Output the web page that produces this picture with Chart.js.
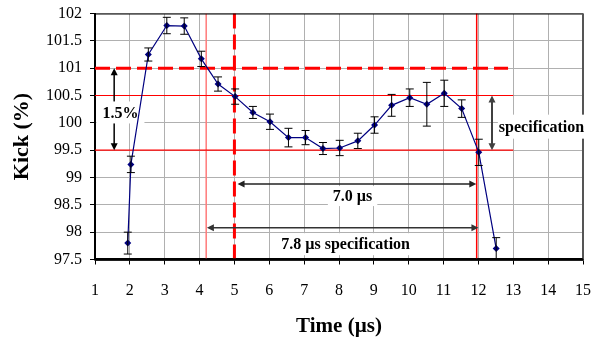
<!DOCTYPE html>
<html><head><meta charset="utf-8">
<script src="https://cdn.jsdelivr.net/npm/chart.js@4/dist/chart.umd.min.js"></script>
<style>html,body{margin:0;padding:0;background:#fff;}canvas{display:block;}</style>
</head><body>
<canvas id="c" width="591" height="338"></canvas>
<script>
// ---- data ----
const timeUs  = [1.94, 2.03, 2.53, 3.06, 3.56, 4.05, 4.53, 5.02, 5.53, 6.02, 6.55, 7.04, 7.54, 8.02, 8.54, 9.02, 9.51, 10.03, 10.52, 11.02, 11.52, 12.01, 12.51];
const kickPct = [97.80, 99.24, 101.25, 101.78, 101.77, 101.17, 100.71, 100.48, 100.19, 100.02, 99.73, 99.73, 99.53, 99.54, 99.67, 99.96, 100.32, 100.46, 100.34, 100.54, 100.26, 99.46, 97.70];
const kickErr = [0.20, 0.15, 0.12, 0.15, 0.15, 0.14, 0.13, 0.14, 0.11, 0.14, 0.17, 0.13, 0.11, 0.14, 0.14, 0.15, 0.20, 0.16, 0.40, 0.24, 0.16, 0.24, 0.20];
const xTickLabels = ['1','2','3','4','5','6','7','8','9','10','11','12','13','14','15'];
const yTickLabels = ['97.5','98','98.5','99','99.5','100','100.5','101','101.5','102'];

// reference levels (data units)
const limitLevels = [101, 100.5, 99.5];          // %; 101 dashed
const limitEnds   = [12.85, 13, 13];             // µs where the horizontal lines stop
const markerTimes = [4.19, 5, 11.95];            // µs vertical lines
const spans = [                                   // double arrows, data units
  {x1:1.55, y1:101,   x2:1.55,  y2:99.5},
  {x1:12.39,y1:100.5, x2:12.39, y2:99.5},
  {x1:5.09, y1:98.88, x2:11.94, y2:98.88},
  {x1:4.21, y1:98.08, x2:12.0,  y2:98.08}
];
const labelTexts = ['1.5%', 'specification', '7.0 \u00b5s', '7.8 \u00b5s specification'];
const labelAt = [{x:1.73,y:100.19},{x:13.81,y:99.93},{x:8.39,y:98.66},{x:8.19,y:97.78}];

const FONT = '"Liberation Serif","Times New Roman",serif';
Chart.defaults.font.family = FONT;
Chart.defaults.color = '#000';

function arrow(ctx, x1, y1, x2, y2, color, w) {
  const ang = Math.atan2(y2 - y1, x2 - x1), L = 7, H = 3.5;
  ctx.save();
  ctx.strokeStyle = color; ctx.fillStyle = color; ctx.lineWidth = w;
  ctx.beginPath();
  ctx.moveTo(x1 + Math.cos(ang)*L*0.7, y1 + Math.sin(ang)*L*0.7);
  ctx.lineTo(x2 - Math.cos(ang)*L*0.7, y2 - Math.sin(ang)*L*0.7);
  ctx.stroke();
  for (const [px, py, a] of [[x1, y1, ang + Math.PI], [x2, y2, ang]]) {
    ctx.beginPath();
    ctx.moveTo(px, py);
    ctx.lineTo(px - Math.cos(a)*L - Math.sin(a)*H, py - Math.sin(a)*L + Math.cos(a)*H);
    ctx.lineTo(px - Math.cos(a)*L + Math.sin(a)*H, py - Math.sin(a)*L - Math.cos(a)*H);
    ctx.closePath(); ctx.fill();
  }
  ctx.restore();
}

const annotate = {
  id: 'annotate',
  beforeDatasetsDraw(chart) {
    const {ctx, chartArea: a, scales: {x, y}} = chart;
    ctx.save();
    // vertical marker lines
    const vStyle = [{c:'#ff7a7a', w:1.5, d:[]}, {c:'#ff0000', w:3, d:[15,6]}, {c:'#ff0000', w:1.5, d:[]}];
    markerTimes.forEach((t, i) => {
      const px = x.getPixelForValue(t), s = vStyle[i];
      ctx.strokeStyle = s.c; ctx.lineWidth = s.w; ctx.setLineDash(s.d);
      ctx.beginPath(); ctx.moveTo(px, a.top); ctx.lineTo(px, a.bottom); ctx.stroke();
    });
    // horizontal limit lines
    const hStyle = [{w:3, d:[15,6]}, {w:1.2, d:[]}, {w:1.2, d:[]}];
    limitLevels.forEach((v, i) => {
      const py = y.getPixelForValue(v), s = hStyle[i];
      ctx.strokeStyle = '#ff0000'; ctx.lineWidth = s.w; ctx.setLineDash(s.d);
      ctx.beginPath(); ctx.moveTo(a.left, py); ctx.lineTo(x.getPixelForValue(limitEnds[i]), py); ctx.stroke();
    });
    ctx.setLineDash([]);
    // top and right frame
    ctx.strokeStyle = '#000'; ctx.lineWidth = 1;
    ctx.beginPath(); ctx.moveTo(a.left, a.top + 0.5); ctx.lineTo(a.right, a.top + 0.5); ctx.stroke();
    ctx.strokeStyle = '#555'; ctx.lineWidth = 2;
    ctx.beginPath(); ctx.moveTo(a.right, a.top); ctx.lineTo(a.right, a.bottom); ctx.stroke();
    // arrows
    const aCol = ['#000', '#404040', '#222', '#333'];
    spans.forEach((s, i) => {
      arrow(ctx, x.getPixelForValue(s.x1), y.getPixelForValue(s.y1),
                 x.getPixelForValue(s.x2), y.getPixelForValue(s.y2), aCol[i], i === 1 ? 2 : 1.5);
    });
    // labels with white boxes
    ctx.font = 'bold 16px ' + FONT;
    ctx.textAlign = 'center'; ctx.textBaseline = 'middle';
    const pads = [{px:6, py:11}, {px:1, py:12}, {px:5, py:10}, {px:6, py:11}];
    labelTexts.forEach((t, i) => {
      const cx = x.getPixelForValue(labelAt[i].x), cy = y.getPixelForValue(labelAt[i].y);
      const w = ctx.measureText(t).width, p = pads[i];
      ctx.fillStyle = '#fff';
      ctx.fillRect(cx - w/2 - p.px, cy - p.py, w + 2*p.px, 2*p.py);
      ctx.fillStyle = '#000';
      ctx.fillText(t, cx, cy + 1);
    });
    // redraw bottom axis line on top of boxes
    ctx.strokeStyle = '#000'; ctx.lineWidth = 2.5;
    ctx.beginPath(); ctx.moveTo(a.left, a.bottom); ctx.lineTo(a.right, a.bottom); ctx.stroke();
    ctx.restore();
  },
  afterDatasetsDraw(chart) {
    const {ctx, chartArea: a, scales: {x, y}} = chart;
    ctx.save();
    ctx.beginPath(); ctx.rect(a.left, a.top - 2, a.right - a.left, a.bottom - a.top + 2); ctx.clip();
    ctx.strokeStyle = '#000'; ctx.lineWidth = 1;
    timeUs.forEach((t, i) => {
      const px = x.getPixelForValue(t);
      const top = y.getPixelForValue(kickPct[i] + kickErr[i]);
      const bot = y.getPixelForValue(kickPct[i] - kickErr[i]);
      ctx.beginPath();
      ctx.moveTo(px, top); ctx.lineTo(px, bot);
      ctx.moveTo(px - 4, top); ctx.lineTo(px + 4, top);
      ctx.moveTo(px - 4, bot); ctx.lineTo(px + 4, bot);
      ctx.stroke();
    });
    ctx.restore();
  }
};

new Chart(document.getElementById('c'), {
  type: 'line',
  data: {
    datasets: [{
      data: timeUs.map((t, i) => ({x: t, y: kickPct[i]})),
      borderColor: '#000080', backgroundColor: '#000080',
      borderWidth: 1.2, pointStyle: 'rectRot', pointRadius: 3.5,
      pointBorderWidth: 0, tension: 0
    }]
  },
  options: {
    responsive: false, animation: false,
    layout: {padding: {top: 13.5, right: 8, left: 0, bottom: 0}},
    plugins: {legend: {display: false}, tooltip: {enabled: false}},
    scales: {
      x: {
        type: 'linear', min: 1, max: 15,
        afterFit(s) { s.height = 78.5; s.paddingLeft = 0; s.paddingRight = 0; },
        grid: {color: '#b0b0b0', lineWidth: 1, tickLength: 5, tickColor: '#000'},
        border: {color: '#000', width: 2.5},
        ticks: {stepSize: 1, padding: 17, font: {size: 16}, maxRotation: 0,
                callback: (v) => xTickLabels[Math.round(v) - 1]},
        title: {display: true, text: 'Time (\u00b5s)', font: {size: 21, weight: 'bold', lineHeight: 1},
                padding: {top: 0, bottom: 1}}
      },
      y: {
        min: 97.5, max: 102,
        afterFit(s) { s.width = 95; s.paddingTop = 0; s.paddingBottom = 0; },
        grid: {color: '#b0b0b0', lineWidth: 1, tickLength: 5, tickColor: '#000'},
        border: {color: '#000', width: 2},
        ticks: {stepSize: 0.5, padding: 8, font: {size: 16},
                callback: (v) => yTickLabels[Math.round((v - 97.5) * 2)]},
        title: {display: true, text: 'Kick (%)', font: {size: 22, weight: 'bold', lineHeight: 1.2},
                padding: {top: 9, bottom: 0}}
      }
    }
  },
  plugins: [annotate]
});
</script>
</body></html>
